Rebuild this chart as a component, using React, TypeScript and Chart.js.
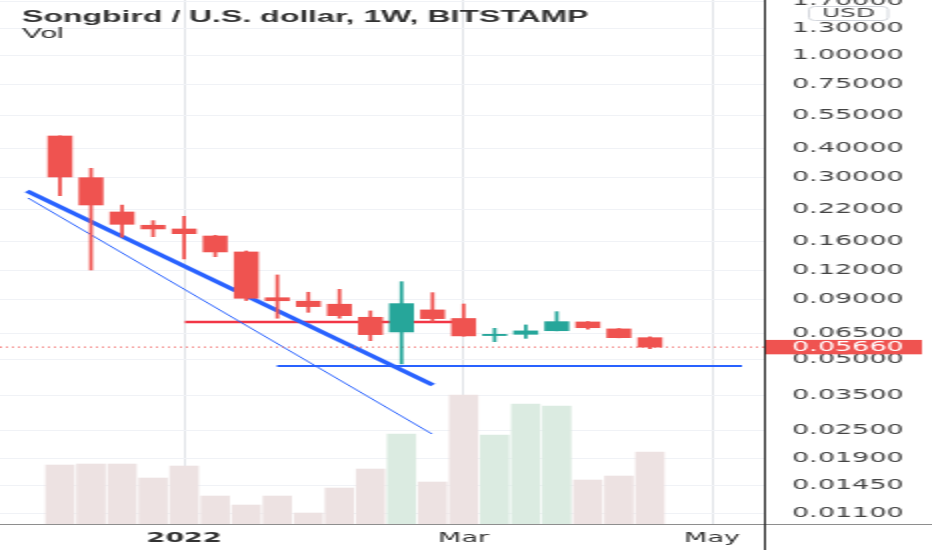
import React, { useEffect, useRef } from 'react';
import { Chart, registerables } from 'chart.js';

Chart.register(...registerables);

// ---- data (weekly candles, Songbird / USD, Bitstamp) ----
const weeks = [0, 1, 2, 3, 4, 5, 6, 7, 8, 9, 10, 11, 12, 13, 14, 15, 16, 17, 18, 19];
const opens = [0.4513, 0.2995, 0.2138, 0.1876, 0.1809, 0.1688, 0.1443, 0.0920, 0.0889, 0.0863, 0.0759, 0.0657, 0.0816, 0.0750, 0.0634, 0.0642, 0.0665, 0.0725, 0.0677, 0.0621];
const highs = [0.4520, 0.3285, 0.2290, 0.1963, 0.2049, 0.1700, 0.1457, 0.1151, 0.0971, 0.0999, 0.0808, 0.1077, 0.0967, 0.0865, 0.0681, 0.0704, 0.0802, 0.0727, 0.0680, 0.0627];
const lows = [0.2510, 0.1208, 0.1667, 0.1677, 0.1347, 0.1377, 0.0895, 0.0752, 0.0797, 0.0752, 0.0603, 0.0480, 0.0725, 0.0630, 0.0597, 0.0617, 0.0664, 0.0675, 0.0620, 0.0557];
const closes = [0.3016, 0.2290, 0.1894, 0.1809, 0.1727, 0.1443, 0.0915, 0.0893, 0.0843, 0.0771, 0.0640, 0.0868, 0.0749, 0.0632, 0.0642, 0.0664, 0.0727, 0.0685, 0.0621, 0.0566];
const volumes = [5.9, 6.0, 6.0, 4.6, 5.8, 2.8, 1.9, 2.8, 1.1, 3.6, 5.5, 9.0, 4.2, 12.9, 8.9, 12.0, 11.8, 4.4, 4.8, 7.2];

const priceTicks = [1.7, 1.3, 1.0, 0.75, 0.55, 0.4, 0.3, 0.22, 0.16, 0.12, 0.09, 0.065, 0.05, 0.035, 0.025, 0.019, 0.0145, 0.011];
const timeTickWeeks = [4, 13, 21];
const timeTickLabels = ['2022', 'Mar', 'May'];
const boldTimeTick = 4;
const lastPrice = 0.0566;

// drawn trend lines (week index, price)
const thickTrend = [{ x: -1.063, y: 0.2628 }, { x: 12.013, y: 0.03901 }];
const thinTrend = [{ x: -1.031, y: 0.2454 }, { x: 11.981, y: 0.02409 }];
const supportLine = [{ x: 6.989, y: 0.04701 }, { x: 21.965, y: 0.04701 }];
const redLevel = [{ x: 4.026, y: 0.07247 }, { x: 12.82, y: 0.07247 }];

const titleText = 'Songbird / U.S. dollar, 1W, BITSTAMP';
const volText = 'Vol';
const currencyText = 'USD';

// view range
const xMin = -1.932;
const xMax = 22.673;
const yMin = 0.00994;
const yMax = 1.719;
const volMax = 52.4;

const UP = '#26a69a';
const DOWN = '#ef5350';
const VOL_UP = '#dbebe1';
const VOL_DOWN = '#ede2e2';
const AXIS_FONT = "'DejaVu Sans'";

const decorPlugin = {
  id: 'decor',
  afterDraw(chart: any) {
    const { ctx, chartArea, width, height } = chart;
    const yScale = chart.scales.y;
    ctx.save();
    // separators
    ctx.lineWidth = 1;
    ctx.strokeStyle = '#8e8e8e';
    ctx.beginPath();
    ctx.moveTo(0, chartArea.bottom + 0.5);
    ctx.lineTo(width, chartArea.bottom + 0.5);
    ctx.stroke();
    ctx.strokeStyle = '#2b2b2b';
    ctx.beginPath();
    ctx.moveTo(chartArea.right + 0.5, 0);
    ctx.lineTo(chartArea.right + 0.5, height);
    ctx.stroke();

    // legend texts
    ctx.textAlign = 'left';
    ctx.textBaseline = 'alphabetic';
    ctx.fillStyle = '#333333';
    ctx.font = "bold 16px 'Liberation Sans'";
    ctx.fillText(titleText, 11, 22);
    ctx.font = "15px 'Liberation Sans'";
    ctx.fillText(volText, 11, 38);

    // currency box
    ctx.fillStyle = '#ffffff';
    ctx.strokeStyle = '#d3d6dc';
    ctx.beginPath();
    (ctx as any).roundRect(404.5, 6.5, 39.5, 14, 3);
    ctx.fill();
    ctx.stroke();
    ctx.fillStyle = '#4a4a4a';
    ctx.textAlign = 'center';
    ctx.textBaseline = 'middle';
    ctx.font = `12.5px ${AXIS_FONT}`;
    ctx.fillText(currencyText, 424.25, 14);

    // last price label
    const py = yScale.getPixelForValue(lastPrice);
    ctx.fillStyle = DOWN;
    ctx.fillRect(chartArea.right + 1, py - 7.2, 461 - chartArea.right - 1, 14.4);
    ctx.fillStyle = '#ffffff';
    ctx.textAlign = 'left';
    ctx.textBaseline = 'middle';
    ctx.font = `13.5px ${AXIS_FONT}`;
    ctx.fillText(lastPrice.toFixed(5), chartArea.right + 14, py + 0.5);
    ctx.restore();
  },
};

export default function App() {
  const canvasRef = useRef<HTMLCanvasElement | null>(null);

  useEffect(() => {
    if (!canvasRef.current) return;
    const candleColors = weeks.map((_, i) => (closes[i] >= opens[i] ? UP : DOWN));
    const volColors = weeks.map((_, i) => (closes[i] >= opens[i] ? VOL_UP : VOL_DOWN));

    const chart = new Chart(canvasRef.current, {
      type: 'bar',
      data: {
        datasets: [
          {
            type: 'bar',
            label: 'body',
            data: weeks.map((w, i) => ({ x: w, y: [opens[i], closes[i]] })) as any,
            backgroundColor: candleColors,
            barThickness: 11.8,
            grouped: false,
            order: 0,
            yAxisID: 'y',
          } as any,
          {
            type: 'bar',
            label: 'wick',
            data: weeks.map((w, i) => ({ x: w, y: [lows[i], highs[i]] })) as any,
            backgroundColor: candleColors,
            barThickness: 1.15,
            grouped: false,
            order: 1,
            yAxisID: 'y',
          } as any,
          {
            type: 'line',
            label: 'last',
            data: [{ x: xMin, y: lastPrice }, { x: xMax, y: lastPrice }],
            borderColor: DOWN,
            borderWidth: 1,
            borderDash: [1, 2],
            pointRadius: 0,
            fill: false,
            order: 2,
            yAxisID: 'y',
          } as any,
          {
            type: 'line',
            label: 'thick',
            data: thickTrend,
            borderColor: '#2962ff',
            borderWidth: 3.3,
            pointRadius: 0,
            fill: false,
            order: 2,
            yAxisID: 'y',
          } as any,
          {
            type: 'line',
            label: 'thin',
            data: thinTrend,
            borderColor: '#2962ff',
            borderWidth: 1,
            pointRadius: 0,
            fill: false,
            order: 2,
            yAxisID: 'y',
          } as any,
          {
            type: 'line',
            label: 'support',
            data: supportLine,
            borderColor: '#2962ff',
            borderWidth: 2,
            pointRadius: 0,
            fill: false,
            order: 2,
            yAxisID: 'y',
          } as any,
          {
            type: 'line',
            label: 'level',
            data: redLevel,
            borderColor: '#f23645',
            borderWidth: 2.5,
            pointRadius: 0,
            fill: false,
            order: 2,
            yAxisID: 'y',
          } as any,
          {
            type: 'bar',
            label: 'vol',
            data: weeks.map((w, i) => ({ x: w, y: volumes[i] })) as any,
            backgroundColor: volColors,
            barThickness: 14,
            grouped: false,
            order: 5,
            yAxisID: 'yv',
          } as any,
        ],
      },
      options: {
        responsive: false,
        animation: false,
        devicePixelRatio: 1,
        events: [],
        layout: { padding: 0 },
        plugins: {
          legend: { display: false },
          tooltip: { enabled: false },
          title: { display: false },
        },
        scales: {
          x: {
            type: 'linear',
            position: 'bottom',
            min: xMin,
            max: xMax,
            bounds: 'data',
            offset: false,
            grid: { color: '#e2e4e9', lineWidth: 1, drawTicks: false, offset: false },
            border: { display: false },
            afterBuildTicks: (s: any) => {
              s.ticks = timeTickWeeks.map((v) => ({ value: v }));
            },
            afterFit: (s: any) => {
              s.height = 26;
              s.paddingLeft = 0;
              s.paddingRight = 0;
            },
            ticks: {
              autoSkip: false,
              maxRotation: 0,
              padding: 6,
              color: '#333333',
              font: (c: any) => ({
                family: AXIS_FONT,
                size: 13.5,
                weight: c.tick && c.tick.value === boldTimeTick ? 'bold' : 'normal',
              }),
              callback: (v: any) => {
                const i = timeTickWeeks.indexOf(Number(v));
                return i >= 0 ? timeTickLabels[i] : '';
              },
            },
          } as any,
          y: {
            type: 'logarithmic',
            position: 'right',
            min: yMin,
            max: yMax,
            bounds: 'data',
            grid: { color: '#f0f2f6', drawTicks: false },
            border: { display: false },
            afterBuildTicks: (s: any) => {
              s.ticks = priceTicks.map((v) => ({ value: v }));
            },
            afterFit: (s: any) => {
              s.width = 84;
              s.paddingTop = 0;
              s.paddingBottom = 0;
            },
            ticks: {
              autoSkip: false,
              padding: 14,
              color: '#444444',
              font: { family: AXIS_FONT, size: 13.5 },
              callback: (v: any) => Number(v).toFixed(5),
            },
          } as any,
          yv: {
            type: 'linear',
            display: false,
            min: 0,
            max: volMax,
          },
        },
      } as any,
      plugins: [decorPlugin],
    });
    return () => chart.destroy();
  }, []);

  return (
    <div style={{ position: 'fixed', left: 0, top: 0, width: 932, height: 550, background: '#fff' }}>
      <canvas
        ref={canvasRef}
        width={466}
        height={550}
        style={{ width: '932px', height: '550px', display: 'block' }}
      />
    </div>
  );
}
